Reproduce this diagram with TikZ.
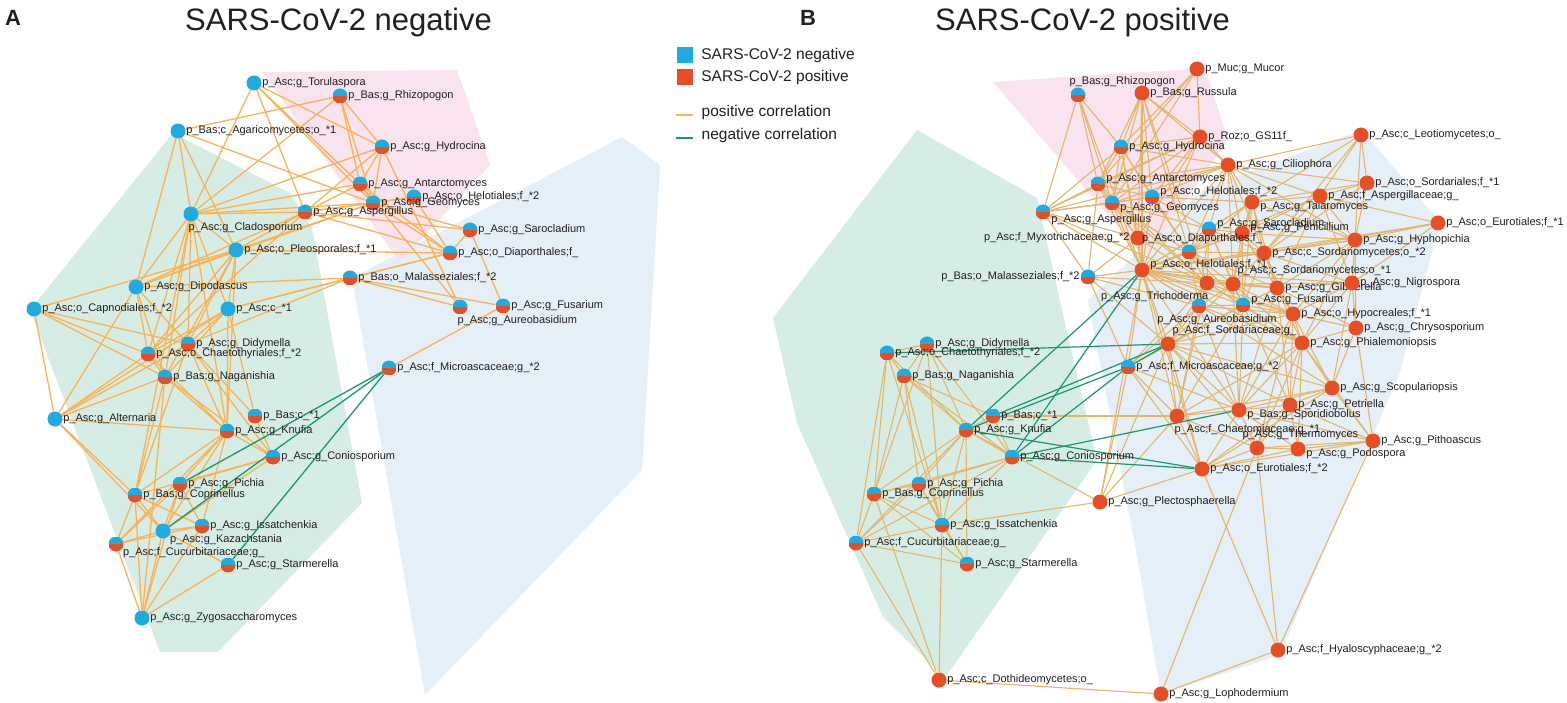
\documentclass[tikz,border=0pt]{standalone}
\usepackage{fontspec}
\setmainfont{Liberation Sans}
\usetikzlibrary{positioning}

\definecolor{negcol}{RGB}{29,171,226}
\definecolor{poscol}{RGB}{232,78,36}
\definecolor{pcorA}{RGB}{250,178,84}
\definecolor{pcorB}{RGB}{229,181,104}
\definecolor{ncor}{RGB}{24,152,108}
\definecolor{grnbg}{RGB}{214,237,229}
\definecolor{pnkbg}{RGB}{248,227,238}
\definecolor{blubg}{RGB}{228,239,248}
\definecolor{txt}{RGB}{35,31,32}

\pgfdeclarelayer{hulls}
\pgfdeclarelayer{links}
\pgfsetlayers{hulls,links,main}

\tikzset{
  taxon/.style={circle, inner sep=0pt, minimum size=15pt},
  negt/.style={taxon, fill=negcol},
  post/.style={taxon, fill=poscol},
  both/.style={taxon, path picture={
      \fill[negcol] (path picture bounding box.north west) rectangle (path picture bounding box.east);
      \fill[poscol] (path picture bounding box.west) rectangle (path picture bounding box.south east);}},
  lbl/.style={font=\fontsize{11}{12}\selectfont, text=txt, inner sep=0.5pt},
  lr/.style={label={[lbl]0:#1}},
  ll/.style={label={[lbl]180:#1}},
  lur/.style={label={[lbl,yshift=5pt]0:#1}},
  ldr/.style={label={[lbl,yshift=-5pt]0:#1}},
  lbr/.style={label={[lbl,anchor=north west,xshift=-3pt]-90:#1}},
  lse/.style={label={[lbl,anchor=north west,xshift=1pt,yshift=3pt]-45:#1}},
  lne/.style={label={[lbl,anchor=south west,xshift=4pt]90:#1}},
  lnw/.style={label={[lbl,anchor=south west,xshift=-9pt]90:#1}},
  lsw/.style={label={[lbl,anchor=north east,xshift=2pt]-90:#1}},
  ttl/.style={font=\fontsize{31}{34}\selectfont, text=txt, inner sep=0pt},
  tag/.style={font=\fontsize{22}{24}\selectfont\bfseries, text=txt, inner sep=0pt},
  keysq/.style={rectangle, inner sep=0pt, minimum size=16pt},
  keytxt/.style={font=\fontsize{15.5}{17}\selectfont, text=txt, inner sep=0.5pt, anchor=west},
}

\begin{document}
\begin{tikzpicture}[x=1pt, y=-1pt]
\useasboundingbox (0,0) rectangle (1567,703);

% titles
\node[tag, anchor=base west] (tagA) at (5,26) {A};
\node[ttl, anchor=base west] (ttlA) at (185,31) {SARS-CoV-2 negative};
\node[tag, anchor=base west] (tagB) at (800,26) {B};
\node[ttl, anchor=base west] (ttlB) at (935,31) {SARS-CoV-2 positive};

% legend
\node[keysq, fill=negcol] (keyneg) at (684.5,55.5) {};
\node[keytxt, right=8pt of keyneg] (keynegt) {SARS-CoV-2 negative};
\node[keysq, fill=poscol] (keypos) at (684.5,77) {};
\node[keytxt, right=8pt of keypos] (keypost) {SARS-CoV-2 positive};
\coordinate (keypa) at (676,115);
\coordinate (keypb) at (693,115);
\coordinate (keyna) at (676,138);
\coordinate (keynb) at (693,138);
\draw[pcorA, line width=2.4pt] (keypa) -- (keypb);
\draw[ncor, line width=2.4pt] (keyna) -- (keynb);
\node[keytxt] (keypc) at (701,112) {positive correlation};
\node[keytxt] (keync) at (701,135) {negative correlation};

% ---------------- panel A ----------------
\node[negt, lr={p\_Asc;g\_Torulaspora}] (aTor) at (254,83) {};
\node[both, lr={p\_Bas;g\_Rhizopogon}] (aRhi) at (340,96) {};
\node[negt, lr={p\_Bas;c\_Agaricomycetes;o\_*1}] (aAga) at (178,131) {};
\node[both, lr={p\_Asc;g\_Hydrocina}] (aHyd) at (382,147) {};
\node[both, lr={p\_Asc;g\_Antarctomyces}] (aAnt) at (360,184) {};
\node[both, lr={p\_Asc;o\_Helotiales;f\_*2}] (aHe2) at (414,197) {};
\node[both, lr={p\_Asc;g\_Geomyces}] (aGeo) at (373,203) {};
\node[both, lr={p\_Asc;g\_Aspergillus}] (aAsp) at (305,212) {};
\node[negt, lbr={p\_Asc;g\_Cladosporium}] (aCla) at (191,214) {};
\node[negt, lr={p\_Asc;o\_Pleosporales;f\_*1}] (aPle) at (236,250) {};
\node[both, lr={p\_Asc;g\_Sarocladium}] (aSar) at (470,230) {};
\node[both, lr={p\_Asc;o\_Diaporthales;f\_}] (aDia) at (450,253) {};
\node[both, lr={p\_Bas;o\_Malasseziales;f\_*2}] (aMal) at (350,278) {};
\node[both, lbr={p\_Asc;g\_Aureobasidium}] (aAur) at (460,307) {};
\node[both, lr={p\_Asc;g\_Fusarium}] (aFus) at (503,306) {};
\node[negt, lr={p\_Asc;g\_Dipodascus}] (aDip) at (136,287) {};
\node[negt, lr={p\_Asc;o\_Capnodiales;f\_*2}] (aCap) at (34,309) {};
\node[negt, lr={p\_Asc;c\_*1}] (aAc1) at (228,309) {};
\node[both, lr={p\_Asc;g\_Didymella}] (aDid) at (188,344) {};
\node[both, lr={p\_Asc;o\_Chaetothyriales;f\_*2}] (aCha) at (148,354) {};
\node[both, lr={p\_Bas;g\_Naganishia}] (aNag) at (165,377) {};
\node[both, lr={p\_Asc;f\_Microascaceae;g\_*2}] (aMic) at (389,368) {};
\node[negt, lr={p\_Asc;g\_Alternaria}] (aAlt) at (55,419) {};
\node[both, lr={p\_Bas;c\_*1}] (aBc1) at (255,416) {};
\node[both, lr={p\_Asc;g\_Knufia}] (aKnu) at (227,431) {};
\node[both, lr={p\_Asc;g\_Coniosporium}] (aCon) at (273,457) {};
\node[both, lr={p\_Asc;g\_Pichia}] (aPic) at (180,484) {};
\node[both, lr={p\_Bas;g\_Coprinellus}] (aCop) at (135,495) {};
\node[both, lr={p\_Asc;g\_Issatchenkia}] (aIss) at (202,526) {};
\node[negt, lse={p\_Asc;g\_Kazachstania}] (aKaz) at (163,531) {};
\node[both, lse={p\_Asc;f\_Cucurbitariaceae;g\_}] (aCuc) at (116,544) {};
\node[both, lr={p\_Asc;g\_Starmerella}] (aSta) at (228,565) {};
\node[negt, lr={p\_Asc;g\_Zygosaccharomyces}] (aZyg) at (142,618) {};

% ---------------- panel B ----------------
\node[both, lnw={p\_Bas;g\_Rhizopogon}] (bRhi) at (1078,95) {};
\node[post, lr={p\_Muc;g\_Mucor}] (bMuc) at (1197,69) {};
\node[post, lr={p\_Bas;g\_Russula}] (bRus) at (1142,93) {};
\node[post, lr={p\_Roz;o\_GS11f\_}] (bRoz) at (1200,137) {};
\node[both, lr={p\_Asc;g\_Hydrocina}] (bHyd) at (1121,147) {};
\node[post, lr={p\_Asc;g\_Ciliophora}] (bCil) at (1228,165) {};
\node[post, lr={p\_Asc;c\_Leotiomycetes;o\_}] (bLeo) at (1361,135) {};
\node[both, lur={p\_Asc;g\_Antarctomyces}] (bAnt) at (1098,184) {};
\node[both, lur={p\_Asc;o\_Helotiales;f\_*2}] (bHe2) at (1152,197) {};
\node[both, ldr={p\_Asc;g\_Geomyces}] (bGeo) at (1112,203) {};
\node[post, ldr={p\_Asc;g\_Talaromyces}] (bTal) at (1252,202) {};
\node[post, lr={p\_Asc;f\_Aspergillaceae;g\_}] (bAsl) at (1320,196) {};
\node[post, lr={p\_Asc;o\_Sordariales;f\_*1}] (bSo1) at (1367,183) {};
\node[post, lr={p\_Asc;o\_Eurotiales;f\_*1}] (bEu1) at (1438,223) {};
\node[both, label={[lbl,yshift=-8pt]0:p\_Asc;g\_Aspergillus}] (bAsp) at (1043,212) {};
\node[both, lur={p\_Asc;g\_Sarocladium}] (bSar) at (1209,229) {};
\node[post, lur={p\_Asc;g\_Penicillium}] (bPen) at (1242,233) {};
\node[post, ll={p\_Asc;f\_Myxotrichaceae;g\_*2}] (bMyx) at (1138,238) {};
\node[both, label={[lbl,xshift=13pt]90:p\_Asc;o\_Diaporthales;f\_}] (bDia) at (1189,252) {};
\node[post, lr={p\_Asc;g\_Hyphopichia}] (bHyp) at (1355,240) {};
\node[post, lr={p\_Asc;c\_Sordariomycetes;o\_*2}] (bSc2) at (1264,253) {};
\node[both, ll={p\_Bas;o\_Malasseziales;f\_*2}] (bMal) at (1088,277) {};
\node[post, lur={p\_Asc;o\_Helotiales;f\_*1}] (bHe1) at (1142,270) {};
\node[post, lsw={p\_Asc;g\_Trichoderma}] (bTri) at (1207,283) {};
\node[post, lne={p\_Asc;c\_Sordariomycetes;o\_*1}] (bSc1) at (1233,284) {};
\node[post, lr={p\_Asc;g\_Gibberella}] (bGib) at (1277,288) {};
\node[post, lr={p\_Asc;g\_Nigrospora}] (bNig) at (1352,283) {};
\node[both, label={[lbl,xshift=18pt]-90:p\_Asc;g\_Aureobasidium}] (bAur) at (1199,306) {};
\node[both, lur={p\_Asc;g\_Fusarium}] (bFus) at (1243,305) {};
\node[post, lr={p\_Asc;o\_Hypocreales;f\_*1}] (bHyc) at (1293,314) {};
\node[post, lr={p\_Asc;g\_Chrysosporium}] (bChr) at (1356,328) {};
\node[post, lne={p\_Asc;f\_Sordariaceae;g\_}] (bSor) at (1168,344) {};
\node[post, lr={p\_Asc;g\_Phialemoniopsis}] (bPhi) at (1302,343) {};
\node[both, lr={p\_Asc;f\_Microascaceae;g\_*2}] (bMic) at (1128,367) {};
\node[post, lr={p\_Asc;g\_Scopulariopsis}] (bSco) at (1332,388) {};
\node[post, lr={p\_Asc;g\_Petriella}] (bPet) at (1290,405) {};
\node[post, ldr={p\_Bas;g\_Sporidiobolus}] (bSpo) at (1239,410) {};
\node[post, lbr={p\_Asc;f\_Chaetomiaceae;g\_*1}] (bCht) at (1177,416) {};
\node[post, label={[lbl,anchor=south west,xshift=-15pt]90:p\_Asc;g\_Thermomyces}] (bThe) at (1257,448) {};
\node[post, ldr={p\_Asc;g\_Podospora}] (bPod) at (1298,449) {};
\node[post, lr={p\_Asc;g\_Pithoascus}] (bPit) at (1373,441) {};
\node[post, lr={p\_Asc;o\_Eurotiales;f\_*2}] (bEu2) at (1202,469) {};
\node[post, lr={p\_Asc;g\_Plectosphaerella}] (bPle) at (1100,502) {};
\node[both, lr={p\_Asc;g\_Didymella}] (bDid) at (927,344) {};
\node[both, lr={p\_Asc;o\_Chaetothyriales;f\_*2}] (bCha) at (887,353) {};
\node[both, lr={p\_Bas;g\_Naganishia}] (bNag) at (904,376) {};
\node[both, lr={p\_Bas;c\_*1}] (bBc1) at (993,416) {};
\node[both, lr={p\_Asc;g\_Knufia}] (bKnu) at (966,430) {};
\node[both, lr={p\_Asc;g\_Coniosporium}] (bCon) at (1012,457) {};
\node[both, lr={p\_Asc;g\_Pichia}] (bPic) at (919,484) {};
\node[both, lr={p\_Bas;g\_Coprinellus}] (bCop) at (874,494) {};
\node[both, lr={p\_Asc;g\_Issatchenkia}] (bIss) at (942,525) {};
\node[both, lr={p\_Asc;f\_Cucurbitariaceae;g\_}] (bCuc) at (856,543) {};
\node[both, lr={p\_Asc;g\_Starmerella}] (bSta) at (967,564) {};
\node[post, lr={p\_Asc;c\_Dothideomycetes;o\_}] (bDot) at (939,680) {};
\node[post, lr={p\_Asc;g\_Lophodermium}] (bLop) at (1161,694) {};
\node[post, lr={p\_Asc;f\_Hyaloscyphaceae;g\_*2}] (bHya) at (1278,650) {};

% shaded groups
\begin{pgfonlayer}{hulls}
\fill[white] (0,0) rectangle (1567,703);
\fill[grnbg] (173,133) -- (290,193) -- (312,228) -- (362,503) -- (218,652) -- (160,652) -- (30,310) -- cycle;
\fill[blubg] (352,278) -- (622,137) -- (660,165) -- (642,470) -- (425,695) -- cycle;
\fill[pnkbg] (262,72) -- (457,70) -- (490,165) -- (400,262) -- cycle;
\fill[grnbg] (917,130) -- (1037,198) -- (1062,310) -- (1097,460) -- (945,678) -- (883,617) -- (797,423) -- (773,318) -- cycle;
\fill[blubg] (1088,300) -- (1205,188) -- (1362,130) -- (1440,222) -- (1400,372) -- (1280,655) -- (1161,694) -- (1135,545) -- cycle;
\fill[pnkbg] (993,82) -- (1205,68) -- (1228,140) -- (1145,258) -- cycle;
\end{pgfonlayer}

% correlations
\begin{pgfonlayer}{links}
\begin{scope}[every edge/.style={draw=pcorA, line width=1.3pt}]
\path (aTor) edge (aCla) edge (aAsp) edge (aAnt) edge (aGeo) edge (aHyd);
\path (aAga) edge (aRhi) edge (aCla) edge (aGeo) edge (aPle) edge (aDip);
\path (aRhi) edge (aHyd) edge (aAnt) edge (aGeo) edge (aCla);
\path (aHyd) edge (aAnt) edge (aGeo) edge (aAsp) edge (aCla) edge (aAur);
\path (aAnt) edge (aAsp) edge (aGeo) edge (aCla) edge (aDia) edge (aAur);
\path (aGeo) edge (aAsp) edge (aHe2) edge (aCla) edge (aDia) edge (aSar) edge (aPle) edge (aDip);
\path (aHe2) edge (aAsp) edge (aDia);
\path (aAsp) edge (aCla) edge (aPle) edge (aDip) edge (aDia) edge (aSar) edge (aCha);
\path (aSar) edge (aDia) edge (aFus);
\path (aDia) edge (aPle) edge (aMal) edge (aAc1);
\path (aMal) edge (aAur) edge (aFus) edge (aDip) edge (aAc1) edge (aDid);
\path (aMic) edge (aFus);
\path (aCla) edge (aPle) edge (aDip) edge (aAc1) edge (aDid) edge (aCha) edge (aNag) edge (aKnu) edge (aCop);
\path (aPle) edge (aDip) edge (aCap) edge (aAc1) edge (aDid) edge (aCha) edge (aNag) edge (aKnu);
\path (aDip) edge (aDid) edge (aCha) edge (aNag) edge (aAlt);
\path (aCap) edge (aAlt) edge (aCha) edge (aNag) edge (aDid);
\path (aAc1) edge (aDid) edge (aCha) edge (aAlt) edge (aBc1) edge (aNag) edge (aKnu);
\path (aDid) edge (aAlt) edge (aCop) edge (aKnu) edge (aCon);
\path (aCha) edge (aAlt) edge (aKnu) edge (aNag);
\path (aNag) edge (aAlt) edge (aCop) edge (aKnu) edge (aCon) edge (aZyg);
\path (aAlt) edge (aKnu) edge (aCop) edge (aKaz);
\path (aBc1) edge (aCon) edge (aDid);
\path (aKnu) edge (aCop) edge (aPic) edge (aIss) edge (aKaz) edge (aCuc) edge (aCon);
\path (aCon) edge (aPic) edge (aCop) edge (aKaz);
\path (aPic) edge (aIss) edge (aKaz) edge (aCuc) edge (aZyg);
\path (aCop) edge (aCuc) edge (aKaz) edge (aIss) edge (aZyg);
\path (aIss) edge (aKaz) edge (aCuc) edge (aZyg);
\path (aKaz) edge (aCuc) edge (aZyg) edge (aSta);
\path (aCuc) edge (aZyg);
\path (aSta) edge (aZyg);
\end{scope}
\begin{scope}[every edge/.style={draw=ncor, line width=1.3pt}]
\path (aMic) edge (aPic) edge (aKaz) edge (aSta);
\end{scope}

\begin{scope}[every edge/.style={draw=pcorB, line width=1.1pt}]
\path (bRhi) edge (bAnt) edge (bHyd) edge (bGeo) edge (bAsp) edge (bHe1);
\path (bRus) edge (bHyd) edge (bAnt) edge (bGeo) edge (bHe2) edge (bRoz) edge (bCil) edge (bHe1) edge (bMyx) edge (bTri) edge (bDia);
\path (bMuc) edge (bRoz) edge (bHyd) edge (bAnt) edge (bGeo);
\path (bRoz) edge (bCil) edge (bHyd) edge (bAnt) edge (bGeo) edge (bHe2) edge (bAsp) edge (bMyx) edge (bHe1);
\path (bHyd) edge (bAnt) edge (bGeo) edge (bAsp) edge (bHe2) edge (bCil) edge (bMyx) edge (bHe1) edge (bDia);
\path (bAnt) edge (bGeo) edge (bAsp) edge (bHe2) edge (bCil) edge (bMyx) edge (bHe1) edge (bTri) edge (bMal);
\path (bHe2) edge (bGeo) edge (bCil) edge (bTal) edge (bSar) edge (bHe1) edge (bDia) edge (bAsp);
\path (bGeo) edge (bAsp) edge (bCil) edge (bMyx) edge (bHe1) edge (bDia) edge (bSar) edge (bTri);
\path (bAsp) edge (bMyx) edge (bHe1) edge (bMal) edge (bCil) edge (bTri);
\path (bCil) edge (bTal) edge (bAsl) edge (bSar) edge (bPen) edge (bHe1) edge (bDia) edge (bSc2) edge (bLeo) edge (bSo1) edge (bHyp) edge (bSc1);
\path (bLeo) edge (bAsl) edge (bTal) edge (bSc2) edge (bHyp) edge (bSo1);
\path (bSo1) edge (bAsl) edge (bTal) edge (bHyp) edge (bSc2);
\path (bEu1) edge (bAsl) edge (bHyp) edge (bSc2) edge (bHe1) edge (bNig);
\path (bTal) edge (bAsl) edge (bSar) edge (bPen) edge (bSc2) edge (bDia) edge (bHe1) edge (bSc1) edge (bGib) edge (bHyp) edge (bFus);
\path (bAsl) edge (bHyp) edge (bSc2) edge (bPen) edge (bNig) edge (bHe1) edge (bGib);
\path (bSar) edge (bPen) edge (bDia) edge (bHe1) edge (bSc2) edge (bTri) edge (bSc1) edge (bAur) edge (bFus);
\path (bPen) edge (bDia) edge (bSc2) edge (bHe1) edge (bSc1) edge (bGib) edge (bHyp) edge (bFus) edge (bHyc);
\path (bMyx) edge (bHe1) edge (bDia) edge (bMal) edge (bTri);
\path (bDia) edge (bHe1) edge (bTri) edge (bSc1) edge (bSc2) edge (bAur) edge (bFus) edge (bGib);
\path (bSc2) edge (bHyp) edge (bGib) edge (bNig) edge (bSc1) edge (bFus) edge (bHyc) edge (bHe1);
\path (bHyp) edge (bNig) edge (bGib) edge (bHyc) edge (bChr) edge (bPhi) edge (bHe1);
\path (bMal) edge (bHe1) edge (bTri) edge (bMic) edge (bSor) edge (bAur);
\path (bHe1) edge (bTri) edge (bSc1) edge (bGib) edge (bAur) edge (bFus) edge (bSor) edge (bMic) edge (bHyc) edge (bPhi) edge (bNig) edge (bCht) edge (bSpo) edge (bSco) edge (bEu2) edge (bPle);
\path (bTri) edge (bSc1) edge (bAur) edge (bFus) edge (bSor) edge (bMic) edge (bGib) edge (bHyc) edge (bCht) edge (bPhi);
\path (bSc1) edge (bGib) edge (bAur) edge (bFus) edge (bHyc) edge (bSor) edge (bNig) edge (bPhi) edge (bSpo);
\path (bGib) edge (bNig) edge (bFus) edge (bHyc) edge (bChr) edge (bPhi) edge (bSor) edge (bSpo) edge (bPet);
\path (bNig) edge (bHyc) edge (bChr) edge (bPhi) edge (bSco);
\path (bAur) edge (bFus) edge (bSor) edge (bMic) edge (bHyc) edge (bCht) edge (bSpo) edge (bPhi);
\path (bFus) edge (bHyc) edge (bSor) edge (bPhi) edge (bSpo) edge (bPet) edge (bCht) edge (bMic);
\path (bHyc) edge (bChr) edge (bPhi) edge (bSor) edge (bSco) edge (bSpo) edge (bPet) edge (bThe);
\path (bChr) edge (bPhi) edge (bSco) edge (bPit);
\path (bSor) edge (bPhi) edge (bCht) edge (bSpo) edge (bPet) edge (bEu2) edge (bThe) edge (bPle) edge (bSco);
\path (bPhi) edge (bSco) edge (bPet) edge (bSpo) edge (bPit) edge (bCht) edge (bThe) edge (bPod);
\path (bMic) edge (bCht) edge (bSpo) edge (bEu2) edge (bPle);
\path (bSco) edge (bPet) edge (bSpo) edge (bPit) edge (bEu2) edge (bCht);
\path (bPet) edge (bSpo) edge (bPit) edge (bThe) edge (bPod) edge (bEu2);
\path (bSpo) edge (bThe) edge (bPod) edge (bEu2) edge (bCht) edge (bPit);
\path (bCht) edge (bEu2) edge (bThe) edge (bPle) edge (bBc1);
\path (bThe) edge (bPod) edge (bEu2) edge (bPit) edge (bLop) edge (bHya);
\path (bPod) edge (bPit) edge (bEu2);
\path (bPit) edge (bEu2) edge (bHya);
\path (bEu2) edge (bPle) edge (bHya);
\path (bLop) edge (bHya) edge (bDot);
\path (bPle) edge (bKnu) edge (bIss);
\path (bDid) edge (bNag) edge (bCha) edge (bKnu) edge (bCop) edge (bIss) edge (bCon);
\path (bCha) edge (bNag) edge (bKnu) edge (bCop) edge (bCuc) edge (bIss);
\path (bNag) edge (bKnu) edge (bCop) edge (bPic) edge (bIss) edge (bCon) edge (bBc1);
\path (bBc1) edge (bKnu) edge (bCon);
\path (bKnu) edge (bCon) edge (bPic) edge (bCop) edge (bIss) edge (bCuc) edge (bSta);
\path (bCon) edge (bPic) edge (bCop) edge (bIss) edge (bCuc);
\path (bPic) edge (bCop) edge (bIss) edge (bCuc) edge (bSta);
\path (bCop) edge (bCuc) edge (bIss) edge (bSta) edge (bDot);
\path (bIss) edge (bCuc) edge (bSta) edge (bDot);
\path (bCuc) edge (bDot) edge (bSta);
\end{scope}
\begin{scope}[every edge/.style={draw=ncor, line width=1.2pt}]
\path (bHe1) edge (bKnu) edge (bCon);
\path (bSor) edge (bCha) edge (bMic) edge (bBc1);
\path (bMic) edge (bKnu) edge (bCon);
\path (bKnu) edge (bEu2);
\path (bCon) edge (bEu2) edge (bSpo);
\end{scope}
\end{pgfonlayer}
\end{tikzpicture}
\end{document}
